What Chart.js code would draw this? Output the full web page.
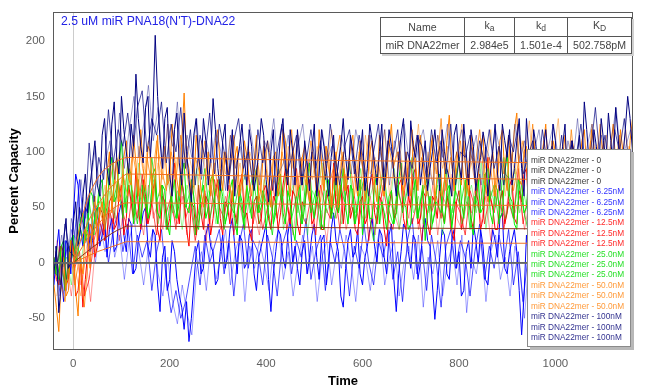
<!DOCTYPE html>
<html>
<head>
<meta charset="utf-8">
<script src="https://cdn.jsdelivr.net/npm/chart.js@4.4.1/dist/chart.umd.min.js"></script>
<style>
  body { margin: 0; background: #fff; font-family: "Liberation Sans", Arial, sans-serif; }
  #wrap { position: relative; width: 645px; height: 391px; }
  #title { position: absolute; left: 61px; top: 14px; font-size: 12.2px; color: #2323e6; white-space: nowrap; }
  #kin { position: absolute; left: 380px; top: 17px; width: 248px; table-layout: fixed; border-collapse: collapse;
         background: #fff; font-size: 10.6px; color: #444; box-shadow: 2px 2px 0 #d0d0d0; white-space: nowrap; }
  #kin td { border: 1px solid #555; text-align: center; padding: 0; height: 16px; line-height: 15px; overflow: hidden; }
  #kin sub { font-size: 8.5px; vertical-align: -2px; }
  #legend { position: absolute; left: 527px; top: 149px; width: 99px; height: 191px; border: 1px solid #8a8a8a;
            background: #fff; box-shadow: 3px 3px 0 #b8b8b8; padding: 5px 0 0 3px; box-sizing: content-box;
            font-size: 8.3px; line-height: 10.4px; white-space: nowrap; }
</style>
</head>
<body>
<div id="wrap">
  <canvas id="c" width="645" height="391"></canvas>
  <div id="title">2.5 uM miR PNA18(N'T)-DNA22</div>
  <table id="kin">
    <tr><td style="width:83px">Name</td><td style="width:49px">k<sub>a</sub></td><td style="width:52px">k<sub>d</sub></td><td style="width:63px">K<sub>D</sub></td></tr>
    <tr><td>miR DNA22mer</td><td>2.984e5</td><td>1.501e-4</td><td>502.758pM</td></tr>
  </table>
  <div id="legend"></div>
</div>
<script>
// sample times (s) of the three replicate runs
var timesA = [-40,-30,-20,-10,0,10,20,30,40,50,60,70,80,90,100,110,120,130,140,150,
  160,170,180,190,200,210,220,230,240,250,260,270,280,290,300,310,320,330,340,350,
  360,370,380,390,400,410,420,430,440,450,460,470,480,490,500,510,520,530,540,550,
  560,570,580,590,600,610,620,630,640,650,660,670,680,690,700,710,720,730,740,750,
  760,770,780,790,800,810,820,830,840,850,860,870,880,890,900,910,920,930,940,950,
  960,970,980,990,1000,1010,1020,1030,1040,1050,1060,1070,1080,1090,1100,1110,1120,1130,1140,1150,
  1160];
// extra samples of replicate A, between the ones above
var timesA2 = [-35,-25,-15,-5,5,15,25,35,45,55,65,75,85,95,105,115,125,135,145,155,
  165,175,185,195,205,215,225,235,245,255,265,275,285,295,305,315,325,335,345,355,
  365,375,385,395,405,415,425,435,445,455,465,475,485,495,505,515,525,535,545,555,
  565,575,585,595,605,615,625,635,645,655,665,675,685,695,705,715,725,735,745,755,
  765,775,785,795,805,815,825,835,845,855,865,875,885,895,905,915,925,935,945,955,
  965,975,985,995,1005,1015,1025,1035,1045,1055,1065,1075,1085,1095,1105,1115,1125,1135,1145,1155];
var timesB = [-37,-27,-17,-7,3,13,23,33,43,53,63,73,83,93,103,113,123,133,143,153,
  163,173,183,193,203,213,223,233,243,253,263,273,283,293,303,313,323,333,343,353,
  363,373,383,393,403,413,423,433,443,453,463,473,483,493,503,513,523,533,543,553,
  563,573,583,593,603,613,623,633,643,653,663,673,683,693,703,713,723,733,743,753,
  763,773,783,793,803,813,823,833,843,853,863,873,883,893,903,913,923,933,943,953,
  963,973,983,993,1003,1013,1023,1033,1043,1053,1063,1073,1083,1093,1103,1113,1123,1133,1143,1153,
  1163];
var timesC = [-34,-24,-14,-4,6,16,26,36,46,56,66,76,86,96,106,116,126,136,146,156,
  166,176,186,196,206,216,226,236,246,256,266,276,286,296,306,316,326,336,346,356,
  366,376,386,396,406,416,426,436,446,456,466,476,486,496,506,516,526,536,546,556,
  566,576,586,596,606,616,626,636,646,656,666,676,686,696,706,716,726,736,746,756,
  766,776,786,796,806,816,826,836,846,856,866,876,886,896,906,916,926,936,946,956,
  966,976,986,996,1006,1016,1026,1036,1046,1056,1066,1076,1086,1096,1106,1116,1126,1136,1146,1156,
  1166];

// 100nM replicates
var c100a = [-10,-45,20,-5,35,15,60,45,90,70, 115,85,125,95,150,100,125,170,105,140,
  95,205,110,130,80,120,90,135,75,115, 95,130,70,148,85,110,65,120,90,125,
  70,105,80,130,75,100,60,115,85,120, 70,95,110,65,125,80,105,60,115,90,
  130,75,100,65,120,85,110,70,125,90, 105,60,115,80,128,95,70,110,85,120,
  65,100,75,115,90,125,70,105,85,118, 60,100,80,125,95,70,110,85,130,75,
  105,90,120,65,110,85,125,95,70,115, 145,90,120,80,110,135,85,115,95,150, 100];
var c100a2 = [15,-20,40,0,55,30,80,70,110,60, 130,70,145,80,120,80,105,130,90,150,
  130,150,85,140,60,135,70,100,55,130, 80,110,95,120,65,125,90,60,105,95,
  120,65,100,115,55,120,85,130,70,100, 120,70,90,100,60,120,85,95,70,105,
  95,115,85,95,65,125,90,100,65,120, 80,95,130,60,105,115,90,65,100,95,
  120,85,60,125,75,100,120,65,95,105, 80,125,65,110,120,85,130,60,100,120,
  70,100,95,125,75,105,70,110,95,85, 120,70,105,130,90,110,140,80,120,130];
var c100b = [15,-20,35,10,5,50,30,108,55,95, 75,138,90,120,105,135,95,140,155,100,
  130,115,145,90,125,100,140,85,120,70, 115,95,135,80,125,100,75,110,130,85,
  100,70,120,90,110,65,100,125,80,95, 115,70,90,120,85,110,75,125,95,70,
  105,120,80,115,90,60,100,125,75,110, 95,120,70,100,85,115,105,75,120,90,
  110,80,125,70,100,95,115,75,110,90, 120,85,105,70,115,100,125,80,95,110,
  75,120,90,105,80,115,70,110,95,125, 85,100,140,90,115,75,120,100,130,85, 110];
var c100c = [-5,25,-15,40,20,75,40,70,105,60, 90,110,75,135,85,120,150,95,125,160,
  110,140,85,125,105,145,80,115,95,130, 75,110,90,120,100,65,115,85,105,75,
  125,95,70,110,100,130,80,90,115,70, 105,125,85,100,65,120,90,105,75,115,
  95,80,120,100,70,115,85,95,120,70, 110,90,125,95,75,105,120,90,70,115,
  95,125,85,100,120,75,95,115,70,105, 90,120,100,80,75,125,90,110,70,100,
  120,85,105,125,95,70,110,90,130,80, 105,125,95,115,85,110,140,90,105,120, 95];

// 50nM replicates
var c50a = [-20,-62,5,-25,10,-48,-10,25,40,20, 55,80,45,95,60,110,70,90,120,65,
  100,80,60,105,75,95,60,153,85,70, 95,50,100,80,120,65,90,55,105,75,
  95,60,115,70,85,50,100,75,110,60, 90,70,105,55,85,120,65,95,75,50,
  100,80,115,60,90,70,110,55,95,80, 125,65,85,100,60,90,115,70,95,55,
  105,75,133,65,90,110,60,95,80,115, 55,100,75,120,65,90,135,70,105,60,
  95,80,125,65,100,75,115,55,95,85, 120,70,105,60,110,85,125,75,100,65, 130];
var c50a2 = [-40,-15,-30,20,-25,5,30,-5,60,45, 30,100,70,55,95,75,115,60,85,105,
  55,115,90,70,125,75,110,95,60,115, 65,80,60,110,85,100,70,95,60,110,
  75,90,55,105,70,95,60,120,80,105, 65,95,70,100,60,90,105,50,100,85,
  65,105,75,110,55,100,70,115,60,105, 80,100,60,75,110,65,95,85,115,80,
  60,110,90,100,70,80,115,65,105,70, 85,60,110,80,105,120,75,100,80,110,
  70,105,85,110,65,95,80,110,65,110, 85,120,80,95,70,105,90,120,80,110];
var c50b = [10,-15,-35,15,-20,5,-40,15,30,50, 35,65,90,55,80,60,100,75,55,95,
  70,110,85,65,100,75,115,90,60,95, 80,110,65,90,55,100,75,115,60,85,
  105,70,90,55,110,80,65,100,75,120, 60,95,70,110,80,55,105,75,90,115,
  65,95,60,100,80,115,70,90,60,110, 85,100,65,75,120,70,95,60,110,80,
  130,65,95,75,110,60,100,85,120,70, 95,60,105,80,115,65,90,110,75,125,
  70,95,60,110,80,100,65,120,75,95, 70,110,85,125,65,100,80,115,70,105, 90];
var c50c = [-30,0,-20,20,-10,-30,10,35,10,45, 70,40,75,100,70,85,55,105,80,110,
  60,90,75,125,65,95,70,105,85,55, 110,75,90,60,95,80,115,70,90,55,
  100,85,65,110,70,95,80,60,105,85, 115,65,90,75,105,70,85,120,60,95,
  75,105,90,65,115,80,95,70,120,60, 90,110,75,95,85,125,65,100,70,115,
  85,105,60,95,125,75,90,65,100,85, 120,70,95,60,105,80,115,95,128,70,
  85,110,75,95,130,70,90,105,65,100, 80,125,70,95,115,75,100,85,120,70, 105];

// 25nM replicates
var c25a = [5,-15,20,-5,25,10,45,30,60,40, 75,50,95,60,110,45,80,55,35,70,
  50,85,40,65,25,75,55,90,45,60, 30,70,50,80,35,60,45,75,25,55,
  70,40,85,50,30,65,45,80,35,55, 20,70,50,90,40,60,30,75,55,45,
  85,35,65,50,25,70,40,80,55,30, 65,45,90,50,35,75,55,20,60,45,
  80,35,70,50,95,40,60,25,75,50, 85,35,65,45,100,55,30,70,50,85,
  40,60,25,75,55,95,45,65,35,80, 50,70,30,60,90,45,75,40,65,55, 85];
var c25a2 = [-10,15,-20,20,0,40,20,65,35,70, 40,80,55,90,70,85,35,75,60,40,
  80,45,70,35,60,40,80,50,75,35, 60,40,75,50,70,35,65,40,65,30,
  55,75,45,65,50,35,70,45,65,30, 55,35,75,55,70,35,60,40,80,65,
  50,70,35,75,55,40,70,35,45,60, 35,75,55,30,65,40,70,45,35,75,
  50,65,30,80,55,75,35,60,45,80, 45,70,40,80,60,35,75,45,80,55,
  70,35,60,40,80,50,70,40,65,45, 75,40,65,45,60,80,45,70,40,70];
var c25b = [-10,10,-25,15,0,35,15,55,25,65, 45,85,55,75,40,90,60,35,70,45,
  95,55,70,30,60,40,80,50,65,25, 55,85,40,60,75,30,55,45,70,35,
  60,80,45,65,50,25,70,55,85,40, 60,35,75,45,65,30,80,50,40,70,
  55,90,35,60,75,45,20,55,85,50, 35,70,45,65,95,40,60,75,30,55,
  45,85,40,65,50,75,30,60,45,80, 55,70,35,95,60,40,75,50,30,65,
  80,45,70,55,35,60,85,50,75,40, 65,45,90,55,30,70,50,80,40,60, 45];
var c25c = [15,-5,5,-20,20,0,30,20,45,55, 30,65,40,100,50,70,45,90,60,40,
  75,35,55,80,45,65,30,70,50,85, 40,60,70,35,80,50,65,30,60,80,
  45,55,35,75,60,40,85,30,55,70, 45,80,25,65,55,90,45,60,80,35,
  50,70,45,85,40,60,75,35,65,50, 85,30,55,75,45,60,35,80,50,70,
  25,60,45,85,35,55,70,45,90,30, 65,50,75,40,55,85,45,60,35,70,
  55,80,40,65,45,75,30,60,85,50, 70,35,55,80,45,65,40,90,55,75, 60];

// 12.5nM replicates
var c12a = [5,-20,10,-15,15,-25,-40,10,30,15, 45,25,60,35,70,40,55,85,30,60,
  45,75,20,55,40,90,35,60,15,50, 70,30,55,40,75,25,50,65,35,80,
  45,20,60,40,70,30,55,45,85,35, 60,25,50,75,40,65,30,55,90,45,
  35,70,50,25,60,40,80,35,55,15, 65,45,75,30,50,85,40,60,25,55,
  70,35,50,20,65,45,80,30,55,40, 95,50,30,65,45,75,35,55,85,40,
  60,25,70,50,35,80,45,60,30,75, 55,90,40,65,35,70,50,85,45,60, 75];
var c12a2 = [-15,15,-20,20,-30,0,-15,35,5,50, 20,55,30,60,25,70,40,50,75,35,
  65,30,60,30,70,50,75,30,55,25, 45,60,25,65,40,55,35,45,70,40,
  30,55,35,65,40,60,30,70,50,65, 35,55,70,35,55,30,65,40,50,70,
  60,40,30,55,35,70,45,60,30,50, 40,70,40,60,80,35,65,35,60,40,
  45,60,30,55,30,70,40,65,30,70, 60,30,55,35,70,40,65,80,45,65,
  35,60,40,30,65,50,70,35,55,40, 75,50,60,40,60,35,75,55,70,40];
var c12b = [-10,15,-25,5,-5,10,-30,-15,20,40, 25,50,35,75,45,30,65,40,80,35,
  55,25,70,45,60,30,85,40,55,20, 45,65,35,75,50,40,70,25,55,45,
  80,35,60,30,50,75,40,65,30,55, 85,45,35,60,25,70,50,40,65,30,
  80,45,60,35,75,20,55,45,70,40, 30,65,50,85,35,55,20,70,45,60,
  40,75,30,55,45,25,65,50,80,35, 60,45,70,30,55,40,85,35,60,50,
  75,30,55,45,65,25,70,40,90,50, 35,60,45,80,40,55,30,65,50,85, 40];
var c12c = [20,-5,0,-30,10,-20,5,-35,15,25, 50,30,45,20,55,65,35,50,25,70,
  40,55,30,80,45,35,60,25,70,40, 55,20,65,45,30,60,40,75,50,30,
  60,45,25,70,40,55,80,35,50,25, 65,40,75,30,55,45,20,60,40,70,
  30,50,85,45,35,60,25,70,40,55, 45,30,65,40,75,30,55,45,70,25,
  60,50,80,40,30,55,45,75,35,60, 20,65,50,40,75,45,60,30,55,40,
  70,45,25,60,50,85,35,55,45,25, 65,50,75,35,60,45,80,40,55,30, 60];

// 6.25nM replicates
var c6a = [-20,30,-35,15,40,70,15,45,20,50, 25,5,40,15,55,10,35,-5,30,50,
  5,25,-44,15,-15,10,-30,-60,-71,-20, 20,-5,35,10,-15,25,5,40,-10,20,
  0,30,-25,15,35,-44,10,25,-5,40, 15,-20,20,5,35,-15,25,0,45,10,
  -40,20,5,30,-20,15,40,0,25,-10, 35,-44,10,30,-5,20,0,40,15,-51,
  5,25,-15,30,10,-25,20,35,0,15, -20,30,5,45,-10,20,10,-65,25,5,
  35,-15,20,40,0,15,-25,30,10,45, -5,25,0,35,-20,15,30,-10,20,5, -10];
var c6a2 = [10,-10,20,-10,80,30,50,10,45,15, 40,30,10,45,25,40,-10,20,45,15,
  30,-20,5,-25,20,-15,-40,-35,-50,10, -10,25,15,-20,10,-5,30,15,25,-5,
  25,-10,5,25,-15,-10,30,5,25,0, -5,10,-10,25,5,20,-20,30,20,-30,
  -5,30,10,-10,5,30,15,30,5,25, -15,-10,35,10,25,-15,30,20,-20,-25,
  30,-10,20,-5,-30,10,-5,20,30,-15, 10,20,40,-5,10,30,-25,-30,0,20,
  10,5,30,15,25,-15,5,20,35,10, 15,10,25,5,5,-5,15,10,35,15];
var c6b = [10,-30,20,-10,25,75,30,10,55,20, 40,0,30,45,10,35,-10,25,5,20,
  -25,10,30,-15,-45,-25,-50,-35,-10,15, -20,25,0,15,30,-10,20,-30,15,35,
  -5,20,10,-20,25,5,-30,15,30,-10, 20,5,40,-15,10,25,-25,20,0,30,
  10,-30,15,-5,35,0,-20,20,5,30, -15,10,-35,20,40,-10,15,-25,25,0,
  -40,15,30,-5,20,5,-30,10,35,-15, 15,-5,25,0,30,-20,10,-35,5,20,
  -10,30,0,-20,25,10,35,-15,20,0, 30,-10,15,-25,20,35,0,20,-15,25, 5];
var c6c = [0,15,-25,30,5,20,55,25,0,35, 10,45,5,25,-15,20,40,10,-20,15,
  30,-10,-30,5,-35,-55,-20,-45,-65,-5, 10,-25,20,-15,5,30,-20,10,25,-35,
  15,-5,20,0,-25,15,30,-15,10,-30, 0,25,-10,15,-35,5,20,-20,10,-5,
  25,0,-35,15,5,-25,10,30,-20,5, 20,-30,0,15,-15,25,-40,5,-10,20,
  -30,0,15,-20,25,-45,5,-10,20,-35, 10,25,-15,5,-30,15,-5,-50,10,-20,
  15,0,-30,20,-10,5,-25,15,-15,10, -20,20,-35,5,10,-15,15,-30,0,10, -20];

// blank (0) replicates
var blankTimes = [-42, 1161];
var c0a = [0, 0];
var c0b = [0, 0];
var c0c = [0, 0];

// kinetic fit curves
var fitTimes = [0,10,20,30,40,50,60,70,80,90,100,110,200,400,600,800,1000,1161];
var fit100 = [0,25,44,58,68,76,82,86,89,91.5,93.5,95,94.5,93,92,91,90,89.5];
var fit50 = [0,14,26,36,45,52,58,64,69,73,77,80,79.5,78,77,76,75,74];
var fit25 = [0,8,15,22,28,34,39,44,48,51,53,54,53.8,53,52.5,52,51.5,51];
var fit12 = [0,3.5,7,10.5,14,17,20.5,23.5,26.5,29,31,33,32.8,32,31.5,31,30.5,30];
var fit6 = [0,2,4,6,8,10,11.5,13,14.5,16,17.5,19,18.9,18.5,18.2,17.8,17.5,17];

var xTicks = [0, 200, 400, 600, 800, 1000];
var yTicks = [-50, 0, 50, 100, 150, 200];

var concLabels = ['0', '6.25nM', '12.5nM', '25.0nM', '50.0nM', '100nM'];
var legendColors = ['#3a3a3a', '#3535ff', '#ff2a2a', '#28e028', '#ff9a3a', '#333390'];

function pts(xs, ys) {
    return ys.map(function (y, i) { return { x: xs[i], y: y }; });
}

// replicate A has two interleaved sample sets
function ptsA(ys, ys2) {
    return pts(timesA, ys).concat(pts(timesA2, ys2)).sort(function (a, b) { return a.x - b.x; });
}

function trace(label, data, color, order, width) {
    return {
        label: label,
        data: data,
        borderColor: color,
        borderWidth: width || 1,
        pointRadius: 0,
        tension: 0,
        fill: false,
        order: order
    };
}

var name = 'miR DNA22mer - ';
var datasets = [
    trace(name + concLabels[1], pts(timesC, c6c), 'rgba(0,0,255,0.38)', 60),
    trace(name + concLabels[1], pts(timesB, c6b), 'rgba(0,0,255,0.7)', 59),
    trace(name + concLabels[1], ptsA(c6a, c6a2), '#0000ff', 58),
    trace(name + concLabels[2], pts(timesC, c12c), 'rgba(255,0,0,0.4)', 50),
    trace(name + concLabels[2], pts(timesB, c12b), 'rgba(255,0,0,0.7)', 49),
    trace(name + concLabels[2], ptsA(c12a, c12a2), '#ff0000', 48),
    trace(name + concLabels[3], pts(timesC, c25c), 'rgba(0,230,0,0.4)', 40),
    trace(name + concLabels[3], pts(timesB, c25b), 'rgba(0,220,0,0.75)', 39),
    trace(name + concLabels[3], ptsA(c25a, c25a2), '#00f000', 38),
    trace(name + concLabels[4], pts(timesC, c50c), 'rgba(255,128,0,0.45)', 30),
    trace(name + concLabels[4], pts(timesB, c50b), 'rgba(255,128,0,0.75)', 29),
    trace(name + concLabels[4], ptsA(c50a, c50a2), '#ff8000', 28),
    trace(name + concLabels[5], pts(timesC, c100c), 'rgba(0,0,128,0.38)', 20),
    trace(name + concLabels[5], pts(timesB, c100b), 'rgba(0,0,128,0.7)', 19),
    trace(name + concLabels[5], ptsA(c100a, c100a2), '#000080', 18),
    trace(name + concLabels[0], pts(blankTimes, c0a), '#666666', 9, 1.5),
    trace(name + concLabels[0], pts(blankTimes, c0b), '#666666', 8, 1.5),
    trace(name + concLabels[0], pts(blankTimes, c0c), '#666666', 7, 1.5),
    trace('fit 100', pts(fitTimes, fit100), '#f07020', 5),
    trace('fit 50', pts(fitTimes, fit50), '#f07020', 5),
    trace('fit 25', pts(fitTimes, fit25), '#f07020', 5),
    trace('fit 12.5', pts(fitTimes, fit12), '#8a3018', 5),
    trace('fit 6.25', pts(fitTimes, fit6), '#f07020', 5)
];

// legend box (3 replicates per concentration)
var legendHtml = '';
concLabels.forEach(function (c, k) {
    for (var r = 0; r < 3; r++) {
        legendHtml += '<div style="color:' + legendColors[k] + '">' + name + c + '</div>';
    }
});
document.getElementById('legend').innerHTML = legendHtml;

var frame = {
    id: 'frame',
    afterDatasetsDraw: function (chart) {
        var a = chart.chartArea, ctx = chart.ctx;
        ctx.save();
        ctx.strokeStyle = '#5a5a5a';
        ctx.lineWidth = 1;
        ctx.strokeRect(a.left + 0.5, a.top + 0.5, a.right - a.left - 1, a.bottom - a.top - 1);
        ctx.restore();
    }
};

var tickFont = { family: '"Liberation Sans", Arial, sans-serif', size: 11.5 };
var titleFont = { family: '"Liberation Sans", Arial, sans-serif', size: 13, weight: 'bold' };

new Chart(document.getElementById('c').getContext('2d'), {
    type: 'line',
    data: { datasets: datasets },
    plugins: [frame],
    options: {
        responsive: false,
        animation: false,
        events: [],
        layout: { padding: { top: 12, right: 12, left: 0, bottom: 0 } },
        plugins: { legend: { display: false }, tooltip: { enabled: false } },
        scales: {
            x: {
                type: 'linear',
                min: -42,
                max: 1161,
                afterBuildTicks: function (s) { s.ticks = xTicks.map(function (v) { return { value: v }; }); },
                afterFit: function (s) { s.height = 41; },
                ticks: { font: tickFont, color: '#606060', padding: 7, maxRotation: 0,
                         callback: function (v) { return String(v); } },
                grid: {
                    drawTicks: false,
                    color: function (ctx) { return ctx.tick && ctx.tick.value === 0 ? '#cccccc' : 'rgba(0,0,0,0)'; }
                },
                border: { display: false },
                title: { display: true, text: 'Time', font: titleFont, color: '#000', padding: { top: 0, bottom: 2 } }
            },
            y: {
                min: -78.6,
                max: 226,
                afterBuildTicks: function (s) { s.ticks = yTicks.map(function (v) { return { value: v }; }); },
                afterFit: function (s) { s.width = 53; },
                ticks: { font: tickFont, color: '#606060', padding: 0 },
                grid: { display: false },
                border: { display: false },
                title: { display: true, text: 'Percent Capacity', font: titleFont, color: '#000', padding: { top: 7, bottom: 0 } }
            }
        }
    }
});
</script>
</body>
</html>
